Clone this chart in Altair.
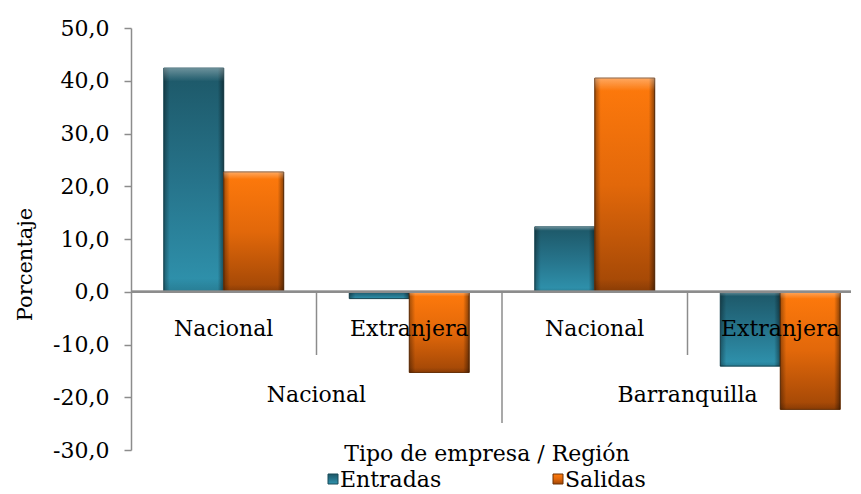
import altair as alt
import pandas as pd

# ---------------- data ----------------
tipos = ["Nacional", "Extranjera", "Nacional", "Extranjera"]
regiones = ["Nacional", "Nacional", "Barranquilla", "Barranquilla"]
series = ["Entradas", "Salidas"]
entradas = [42.4, -1.3, 12.3, -14.1]
salidas = [22.7, -15.3, 40.5, -22.3]
y_ticks = [-30, -20, -10, 0, 10, 20, 30, 40, 50]
x_title = "Tipo de empresa / Región"
y_title = "Porcentaje"

keys = [f"{t}|{r}" for t, r in zip(tipos, regiones)]
rows = []
for k, t, r, e, s in zip(keys, tipos, regiones, entradas, salidas):
    rows.append(dict(key=k, tipo=t, region=r, serie=series[0], valor=e))
    rows.append(dict(key=k, tipo=t, region=r, serie=series[1], valor=s))
bars_df = pd.DataFrame(rows)
cats_df = pd.DataFrame(dict(key=keys, tipo=tipos, region=regiones, idx=list(range(len(keys)))))

# ---------------- style ----------------
FONT = "DejaVu Serif"
FS = 22
GREY = "#8c8c8c"
W, H = 720, 422

xscale = alt.Scale(domain=keys, range=[0, 742], paddingInner=0, paddingOuter=0)
X = alt.X("key:N", scale=xscale, axis=None)
XOFF = alt.XOffset("serie:N", scale=alt.Scale(domain=series, paddingInner=0, paddingOuter=0.546))

label_expr = "replace(replace(format(datum.value, '.1f'), '.', ','), '\u2212', '-')"
Y = alt.Y(
    "valor:Q",
    scale=alt.Scale(domain=[-30, 50], nice=False, zero=False),
    axis=alt.Axis(
        values=y_ticks, grid=False, domainColor=GREY, domainWidth=1.5,
        tickColor=GREY, tickSize=7, tickWidth=1.5,
        labelFont=FONT, labelFontSize=FS, labelColor="black", labelPadding=15,
        labelExpr=label_expr,
        title=y_title, titleFont=FONT, titleFontSize=FS - 1, titleFontWeight="normal",
        titleColor="black", titleAngle=270, titleX=-106, titleY=236,
        titleAlign="center", titleBaseline="middle",
    ),
)

def vgrad(c0, c1, c2):
    return alt.Gradient(
        gradient="linear", x1=0, x2=0, y1=0, y2=1,
        stops=[alt.GradientStop(color=c0, offset=0),
               alt.GradientStop(color=c1, offset=0.5),
               alt.GradientStop(color=c2, offset=1)],
    )

fills = {
    "Entradas": vgrad("#1d5767", "#26738a", "#2f93ae"),
    "Salidas": vgrad("#ff7a0c", "#e2680a", "#a04606"),
}
strokes = {"Entradas": "#184b59", "Salidas": "#6e3204"}

edge = alt.Gradient(
    gradient="linear", x1=0, x2=1, y1=0, y2=0,
    stops=[alt.GradientStop(color="rgba(0,0,0,0.35)", offset=0),
           alt.GradientStop(color="rgba(0,0,0,0)", offset=0.1),
           alt.GradientStop(color="rgba(0,0,0,0)", offset=0.9),
           alt.GradientStop(color="rgba(0,0,0,0.45)", offset=1)],
)
top_hl = alt.Gradient(
    gradient="linear", x1=0, x2=0, y1=0, y2=1,
    stops=[alt.GradientStop(color="rgba(255,255,255,0.35)", offset=0),
           alt.GradientStop(color="rgba(255,255,255,0.0)", offset=0.06),
           alt.GradientStop(color="rgba(0,0,0,0)", offset=0.94),
           alt.GradientStop(color="rgba(0,0,0,0.15)", offset=1)],
)

layers = []
first = True
for s in series:
    base = alt.Chart(bars_df).transform_filter(alt.datum.serie == s)
    enc = dict(x=X, xOffset=XOFF, y=Y if first else alt.Y("valor:Q"), y2=alt.datum(0))
    first = False
    layers.append(base.mark_bar(fill=fills[s], stroke=strokes[s], strokeWidth=1).encode(**enc))
    layers.append(base.mark_bar(fill=edge).encode(x=X, xOffset=XOFF, y="valor:Q", y2=alt.datum(0)))
    layers.append(base.mark_bar(fill=top_hl).encode(x=X, xOffset=XOFF, y="valor:Q", y2=alt.datum(0)))

# zero line (category axis)
zero = alt.Chart(cats_df).mark_rule(color=GREY, strokeWidth=2).encode(
    y=alt.datum(0), x=alt.value(0), x2=alt.value(W))

Xb = alt.X("key:N", scale=xscale, axis=None, bandPosition=0)
short_sep = alt.Chart(cats_df).transform_filter("datum.idx == 1 || datum.idx == 3").mark_rule(
    color=GREY, strokeWidth=1.5).encode(x=Xb, y=alt.datum(0), y2=alt.value(327))
long_sep = alt.Chart(cats_df).transform_filter("datum.idx == 2").mark_rule(
    color=GREY, strokeWidth=1.5).encode(x=Xb, y=alt.datum(0), y2=alt.value(395))

sub_labels = alt.Chart(cats_df).mark_text(font=FONT, fontSize=FS, color="black").encode(
    x=X, y=alt.value(301), text="tipo:N")
reg_labels = alt.Chart(cats_df).transform_filter("datum.idx == 1 || datum.idx == 3").mark_text(
    font=FONT, fontSize=FS, color="black").encode(x=Xb, y=alt.value(367), text="region:N")

xt = alt.Chart(pd.DataFrame({"t": [x_title]})).mark_text(font=FONT, fontSize=FS, color="black").encode(
    x=alt.value(356), y=alt.value(426), text="t:N")

leg_df = pd.DataFrame({"serie": series})
LEG_X = [202, 427]
leg_layers = []
for i, s in enumerate(series):
    d = alt.Chart(leg_df).transform_filter(alt.datum.serie == s)
    leg_layers.append(d.mark_square(size=100, fill=fills[s], stroke=strokes[s], strokeWidth=1, opacity=1).encode(
        x=alt.value(LEG_X[i]), y=alt.value(451)))
    leg_layers.append(d.mark_text(font=FONT, fontSize=FS, color="black", align="left").encode(
        x=alt.value(LEG_X[i] + 7), y=alt.value(452), text="serie:N"))

chart = alt.layer(
    *layers, zero, short_sep, long_sep, sub_labels, reg_labels, xt, *leg_layers
).properties(
    width=W, height=H,
    autosize=alt.AutoSizeParams(type="none"),
    padding={"left": 123, "top": 20, "right": 0, "bottom": 44},
    background="white",
).configure_view(stroke=None)

chart.save("out.html", embed_options={"renderer": "svg", "actions": False})
